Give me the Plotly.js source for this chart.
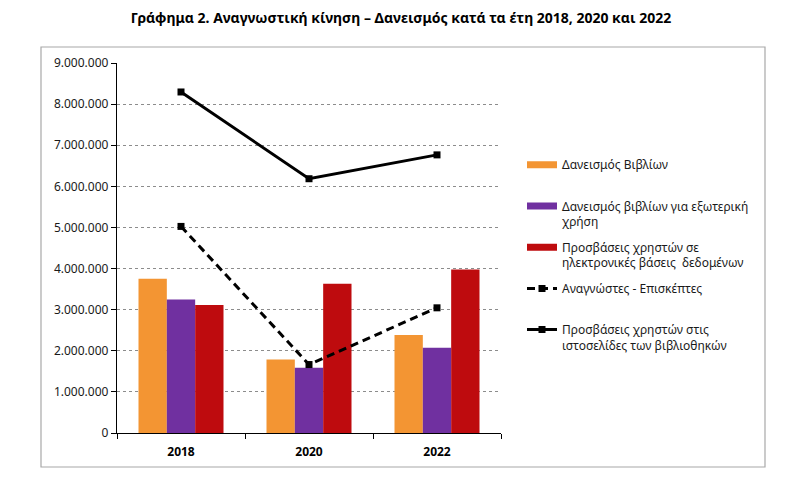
<!DOCTYPE html>
<html>
<head>
<meta charset="utf-8">
<script src="https://cdn.plot.ly/plotly-3.0.1.min.js"></script>
<style>html,body{margin:0;padding:0;background:#fff;}#chart{width:807px;height:500px;}</style>
</head>
<body>
<div id="chart"></div>
<script>
const years = ['2018', '2020', '2022'];
const loansBooks = [3750000, 1785000, 2385000];
const loansExternal = [3245000, 1590000, 2075000];
const dbAccess = [3115000, 3630000, 3975000];
const visitors = [5025000, 1665000, 3045000];
const webAccess = [8295000, 6185000, 6765000];

const nameLoans = 'Δανεισμός Βιβλίων';
const nameExternal = 'Δανεισμός βιβλίων για εξωτερική<br>χρήση';
const nameDb = 'Προσβάσεις χρηστών σε<br>ηλεκτρονικές βάσεις  δεδομένων';
const nameVisitors = 'Αναγνώστες - Επισκέπτες';
const nameWeb = 'Προσβάσεις χρηστών στις<br>ιστοσελίδες των βιβλιοθηκών';
const yTicks = [0, 1000000, 2000000, 3000000, 4000000, 5000000, 6000000, 7000000, 8000000, 9000000];

const cOrange = '#F39533', cPurple = '#7030A0', cRed = '#BE0B0E';
const FONT = 'Noto Sans, sans-serif';
const empty = years.map(() => null);

const data = [
  {type: 'bar', x: years, y: loansBooks, marker: {color: cOrange}, showlegend: false, legendgroup: 'a', hoverinfo: 'y'},
  {type: 'bar', x: years, y: loansExternal, marker: {color: cPurple}, showlegend: false, legendgroup: 'b', hoverinfo: 'y'},
  {type: 'bar', x: years, y: dbAccess, marker: {color: cRed}, showlegend: false, legendgroup: 'c', hoverinfo: 'y'},
  {type: 'scatter', mode: 'lines', x: years, y: empty, name: nameLoans + '<br> ', legendgroup: 'a', line: {color: cOrange, width: 7}},
  {type: 'scatter', mode: 'lines', x: years, y: empty, name: nameExternal, legendgroup: 'b', line: {color: cPurple, width: 7}},
  {type: 'scatter', mode: 'lines', x: years, y: empty, name: nameDb, legendgroup: 'c', line: {color: cRed, width: 7}},
  {type: 'scatter', mode: 'lines+markers', x: years, y: visitors, name: nameVisitors + '<br> ', legendgroup: 'd',
   line: {color: '#000', width: 3, dash: '8px,5px'}, marker: {symbol: 'square', size: 7, color: '#000'}},
  {type: 'scatter', mode: 'lines+markers', x: years, y: webAccess, name: nameWeb, legendgroup: 'e',
   line: {color: '#000', width: 3}, marker: {symbol: 'square', size: 7, color: '#000'}}
];

const L = 117, R = 501, T = 63, B = 433;
const px2x = p => (p - L) / (R - L);
const px2y = p => (B - p) / (B - T);

const layout = {
  width: 807, height: 500,
  margin: {l: L, r: 807 - R, t: T, b: 500 - B, pad: 0},
  paper_bgcolor: '#fff', plot_bgcolor: '#fff',
  font: {family: FONT, size: 12, color: '#1a1a1a'},
  separators: ',.',
  title: {text: 'Γράφημα 2. Αναγνωστική κίνηση – Δανεισμός κατά τα έτη 2018, 2020 και 2022',
          font: {family: FONT, size: 14, color: '#000', weight: 'bold'},
          x: 401 / 807, xanchor: 'center', xref: 'container', y: 1 - 18 / 500, yanchor: 'middle', yref: 'container'},
  barmode: 'group', bargap: 0.336, bargroupgap: 0,
  xaxis: {type: 'category', showline: true, linecolor: '#000', linewidth: 1.2, ticks: 'outside', ticklen: 5,
          tickcolor: '#000', tickson: 'boundaries', showgrid: false, zeroline: false, ticklabelstandoff: 7,
          tickfont: {family: FONT, size: 12, color: '#000', weight: 'bold'}, fixedrange: true},
  yaxis: {range: [0, 9000000], tickvals: yTicks, tickformat: ',d', showline: true, linecolor: '#000', linewidth: 1.2,
          ticks: 'outside', ticklen: 5, tickcolor: '#000', showgrid: true, gridcolor: '#8c8c8c', griddash: 'dot',
          gridwidth: 1, zeroline: false, tickfont: {family: FONT, size: 12, color: '#1a1a1a'}, fixedrange: true},
  legend: {x: px2x(522), xanchor: 'left', y: px2y(150.5), yanchor: 'top', traceorder: 'grouped', tracegroupgap: 7,
           valign: 'top', font: {family: FONT, size: 12, color: '#1a1a1a'}, bgcolor: 'rgba(0,0,0,0)', itemwidth: 30},
  shapes: [{type: 'rect', xref: 'paper', yref: 'paper', x0: px2x(41), x1: px2x(765), y0: px2y(467), y1: px2y(47),
            line: {color: '#a8a8a8', width: 1.2}, fillcolor: 'rgba(0,0,0,0)', layer: 'below'}],
  hovermode: false
};

Plotly.newPlot('chart', data, layout, {displayModeBar: false, staticPlot: true});
</script>
</body>
</html>
